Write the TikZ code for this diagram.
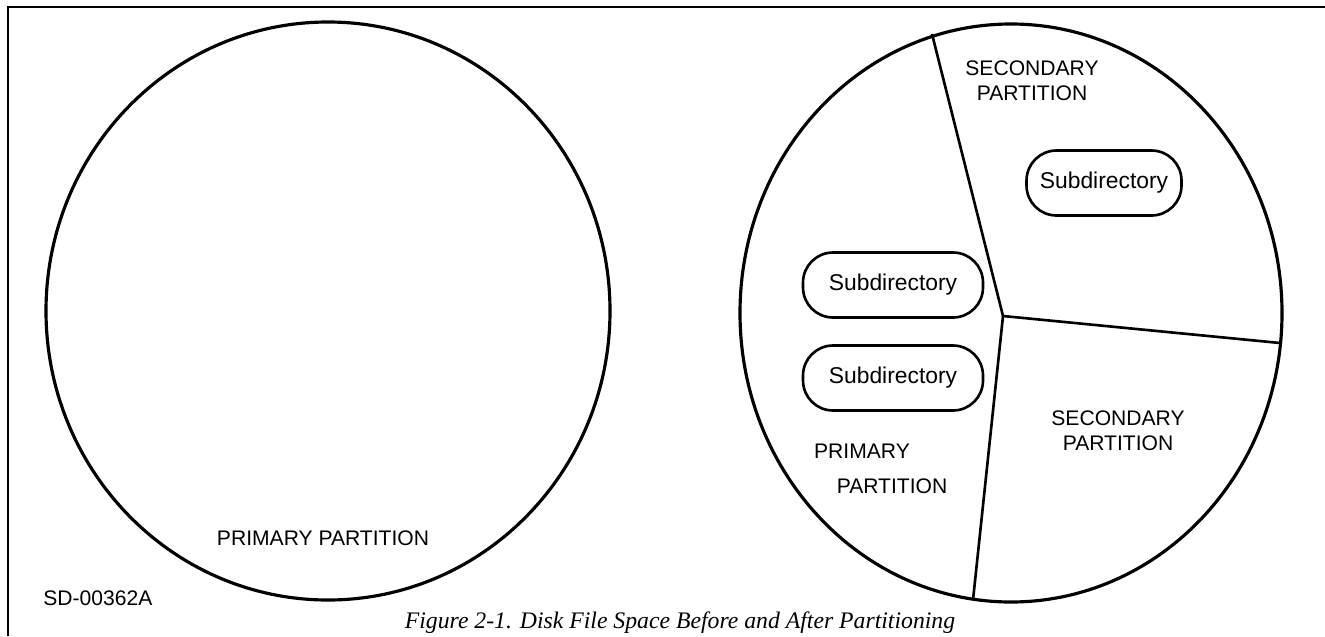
\documentclass[tikz,border=0pt]{standalone}
\usepackage{fontspec}
\setmainfont{Liberation Sans}
\newfontfamily\capfont{Liberation Serif}
\usepackage{tikz}
\usetikzlibrary{positioning}

\tikzset{
    disk/.style={line width=1.8pt},
    cut/.style={line width=1.5pt},
    subdir/.style={draw,line width=1.5pt,rounded corners=0.6cm,minimum width=3.6cm,minimum height=1.3cm,font=\fontsize{13}{15}\selectfont},
    plabel/.style={align=center,font=\fontsize{12}{14}\selectfont,inner sep=0pt}
}

\begin{document}
\begin{tikzpicture}[x=0.02cm,y=-0.02cm]
        \useasboundingbox (0,0) rectangle (1325,636);

        % frame
        \draw[line width=1.2pt] (8,636) -- (8,7) -- (1325,7);

        % before: one partition
        \draw[disk] (328,311) ellipse [x radius=282,y radius=289];
        \node[plabel] at (323,538) (primary-left) {PRIMARY PARTITION};
        \node[plabel,anchor=west] at (43,598) (drawing-no) {SD-00362A};

        % after: three partitions
        \draw[disk] (1011,313) ellipse [x radius=271,y radius=289];
        \coordinate (hub) at (1003,316);
        \coordinate (rim-top) at (932,34);
        \coordinate (rim-right) at (1280,343);
        \coordinate (rim-bottom) at (973,600);
        \draw[cut] (rim-top) -- (hub) -- (rim-right);
        \draw[cut] (hub) -- (rim-bottom);

        \node[plabel] at (1032,81) (secondary-top) {SECONDARY\\PARTITION};
        \node[subdir,minimum width=3.1cm] at (1104,183) (subdir-top) {Subdirectory};

        \node[subdir] at (893,285) (subdir-one) {Subdirectory};
        \node[subdir] at (893,378) (subdir-two) {Subdirectory};

        \node[plabel] at (1118,431) (secondary-low) {SECONDARY\\PARTITION};
        \node[plabel] at (862,451) (primary-word) {PRIMARY};
        \node[plabel] at (892,486) (partition-word) {PARTITION};

        % caption
        \node[anchor=north,inner sep=0pt,font=\capfont\itshape\fontsize{13.5}{15}\selectfont] at (680,611) (caption) {Figure 2-1. Disk File Space Before and After Partitioning};
    \end{tikzpicture}
\end{document}
